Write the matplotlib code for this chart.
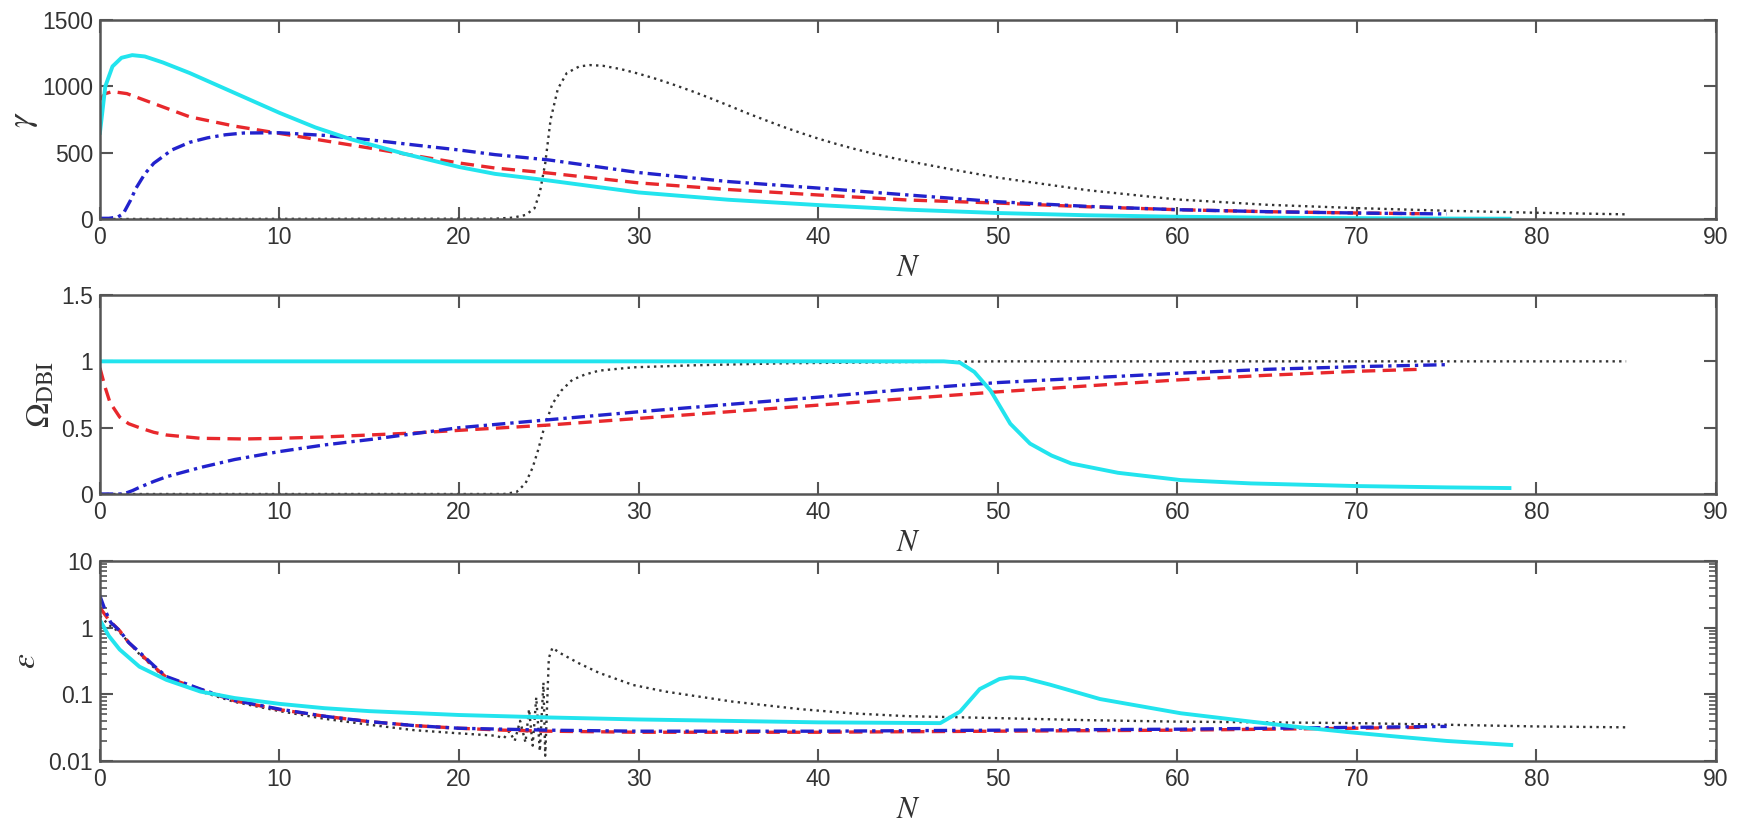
import numpy as np
import matplotlib
matplotlib.use("Agg")
import matplotlib.pyplot as plt
from matplotlib.ticker import LogLocator, FixedLocator, NullFormatter

# ---- data ----
# gamma panel
cyan_g_N = [0, 0.3, 0.7, 1.2, 1.8, 2.5, 3.5, 5, 7, 10, 12, 14, 17, 20, 22, 25, 30, 35, 40, 45, 50, 55, 60, 65, 70, 75, 78.5]
cyan_g = [650, 1000, 1150, 1215, 1235, 1225, 1180, 1100, 980, 800, 690, 600, 490, 392, 340, 290, 200, 145, 105, 70, 45, 28, 17, 10, 6, 3, 2]

red_g_N = [0, 0.3, 0.7, 1.5, 3, 5, 7.5, 10, 12.5, 15, 17.5, 20, 22, 25, 30, 35, 40, 45, 50, 55, 60, 65, 70, 73.5]
red_g = [900, 945, 960, 945, 870, 770, 700, 645, 590, 535, 478, 422, 384, 346, 272, 222, 181, 143, 120, 92, 70, 55, 45, 40]

blue_g_N = [0, 0.5, 1.0, 1.3, 1.7, 2, 2.5, 3, 4, 5, 6, 7, 8, 10, 12.5, 15, 17.5, 20, 22, 25, 30, 35, 40, 45, 50, 55, 60, 65, 70, 75]
blue_g = [5, 5, 15, 40, 140, 230, 340, 420, 520, 578, 612, 635, 648, 650, 630, 597, 558, 520, 485, 445, 350, 282, 233, 181, 130, 95, 70, 55, 45, 38]

dot_g_N = [0, 22, 23, 23.7, 24.2, 24.5, 24.8, 25.1, 25.5, 26, 26.7, 27.3, 28, 29, 30, 31, 32, 33, 34, 35, 36, 37, 38, 39, 40, 41, 42, 43, 44, 45, 47.5, 50, 55, 60, 65, 70, 75, 80, 85]
dot_g = [0, 2, 10, 30, 80, 200, 420, 750, 980, 1100, 1150, 1160, 1155, 1130, 1095, 1055, 1010, 962, 910, 856, 800, 748, 697, 650, 606, 566, 529, 495, 464, 436, 372, 312, 217, 147, 107, 82, 62, 47, 35]

# Omega_DBI panel
cyan_o_N = [0, 47, 47.9, 48.7, 49.6, 50.7, 51.8, 53, 54.1, 56.7, 60.2, 64.1, 70, 75, 78.5]
cyan_o = [1.0, 1.0, 0.99, 0.92, 0.78, 0.53, 0.38, 0.29, 0.23, 0.16, 0.105, 0.08, 0.06, 0.05, 0.045]

red_o_N = [0, 0.3, 0.56, 1.1, 1.6, 2.2, 3, 3.7, 5.6, 8, 10, 12.5, 15, 17.5, 20, 25, 30, 35, 40, 45, 50, 55, 60, 65, 70, 73.5]
red_o = [0.95, 0.8, 0.69, 0.58, 0.53, 0.50, 0.465, 0.445, 0.42, 0.415, 0.42, 0.43, 0.445, 0.46, 0.48, 0.52, 0.57, 0.62, 0.67, 0.72, 0.77, 0.815, 0.86, 0.895, 0.925, 0.94]

blue_o_N = [0, 1.3, 1.8, 2.2, 3, 3.7, 5.6, 7.5, 10, 12.5, 15, 17.5, 20, 25, 30, 35, 40, 45, 50, 55, 60, 65, 70, 75]
blue_o = [0.0, 0.0, 0.025, 0.05, 0.095, 0.13, 0.2, 0.26, 0.32, 0.37, 0.41, 0.455, 0.50, 0.56, 0.62, 0.675, 0.73, 0.79, 0.84, 0.875, 0.91, 0.94, 0.96, 0.975]

dot_o_N = [0, 22.5, 23.2, 23.7, 24.1, 24.4, 24.7, 25.2, 25.7, 26.3, 27, 27.8, 29.7, 33, 38, 45, 50, 85]
dot_o = [0, 0, 0.015, 0.08, 0.2, 0.33, 0.48, 0.68, 0.78, 0.86, 0.9, 0.93, 0.955, 0.97, 0.985, 0.995, 1.0, 1.0]

# epsilon panel
cyan_e_N = [0, 0.5, 1.1, 2.2, 3.7, 5.6, 7.5, 10, 12.5, 15, 20, 25, 30, 35, 40, 46.8, 47.9, 49, 50.1, 50.7, 51.5, 52.9, 55.7, 60.2, 64.1, 66.9, 69.6, 72.4, 75, 78.6]
cyan_e = [1.3, 0.75, 0.47, 0.26, 0.165, 0.11, 0.088, 0.072, 0.062, 0.056, 0.049, 0.045, 0.042, 0.04, 0.038, 0.037, 0.055, 0.12, 0.17, 0.18, 0.175, 0.14, 0.085, 0.052, 0.039, 0.032, 0.027, 0.023, 0.02, 0.0174]

red_e_N = [0, 0.5, 1.1, 1.6, 2.2, 3, 3.7, 5.6, 7.5, 10, 12.5, 15, 17.5, 20, 22.5, 25, 30, 40, 50, 60, 70, 73.5]
red_e = [2.0, 1.3, 0.9, 0.6, 0.42, 0.26, 0.18, 0.118, 0.08, 0.059, 0.047, 0.039, 0.034, 0.031, 0.029, 0.028, 0.027, 0.027, 0.028, 0.029, 0.031, 0.032]

blue_e_N = [0, 0.3, 0.6, 1.1, 1.6, 2.2, 3, 3.7, 5.6, 7.5, 10, 12.5, 15, 17.5, 20, 22.5, 25, 30, 40, 50, 60, 70, 75]
blue_e = [3.0, 1.8, 1.2, 0.9, 0.6, 0.43, 0.27, 0.185, 0.12, 0.081, 0.06, 0.047, 0.039, 0.034, 0.031, 0.03, 0.029, 0.028, 0.028, 0.029, 0.030, 0.032, 0.033]

dot_e_N = [0, 0.5, 1.1, 2.2, 3.7, 5.6, 7.5, 10, 12.5, 15, 17.5, 20, 22, 22.5, 22.8, 23.1, 23.4, 23.7, 23.9, 24.1, 24.3, 24.5, 24.7, 24.8, 25.0, 25.2, 25.6, 26.7, 27.8, 29.7, 31.5, 35.2, 39, 41.8, 45, 50, 55, 60, 65, 70, 75, 80, 85]
dot_e = [1.5, 1.1, 0.85, 0.4, 0.17, 0.11, 0.077, 0.056, 0.043, 0.035, 0.029, 0.026, 0.024, 0.022, 0.028, 0.02, 0.04, 0.019, 0.06, 0.017, 0.09, 0.014, 0.15, 0.012, 0.35, 0.5, 0.42, 0.29, 0.21, 0.138, 0.11, 0.078, 0.06, 0.052, 0.047, 0.044, 0.041, 0.039, 0.038, 0.037, 0.035, 0.033, 0.032]

x_ticks = [0, 10, 20, 30, 40, 50, 60, 70, 80, 90]

# ---- styles ----
CYAN = "#22e4ee"
RED = "#e8282c"
BLUE = "#2222cc"
DOT = "#333333"
AXC = "#555555"
TXC = "#333333"

plt.rcParams["mathtext.fontset"] = "stix"
plt.rcParams["font.family"] = ["Liberation Sans", "DejaVu Sans"]

fig = plt.figure(figsize=(17.41, 8.22), dpi=100)
left, width = 0.0574, 0.9282
ax1 = fig.add_axes([left, 0.7336, width, 0.2421])
ax2 = fig.add_axes([left, 0.3990, width, 0.2421])
ax3 = fig.add_axes([left, 0.0742, width, 0.2433])


def draw(ax, cN, c, rN, r, bN, b, dN, d):
    ax.plot(dN, d, color=DOT, lw=1.7, linestyle=(0, (1, 1.8)))
    ax.plot(rN, r, color=RED, lw=2.4, linestyle=(0, (4, 2.2)))
    ax.plot(bN, b, color=BLUE, lw=2.4, linestyle=(0, (4, 1.5, 1, 1.5)))
    ax.plot(cN, c, color=CYAN, lw=2.8)


draw(ax1, cyan_g_N, cyan_g, red_g_N, red_g, blue_g_N, blue_g, dot_g_N, dot_g)
draw(ax2, cyan_o_N, cyan_o, red_o_N, red_o, blue_o_N, blue_o, dot_o_N, dot_o)
draw(ax3, cyan_e_N, cyan_e, red_e_N, red_e, blue_e_N, blue_e, dot_e_N, dot_e)

ax1.set_ylim(0, 1500)
ax1.set_yticks([0, 500, 1000, 1500])
ax2.set_ylim(0, 1.5)
ax2.set_yticks([0, 0.5, 1, 1.5])
ax2.set_yticklabels(["0", "0.5", "1", "1.5"])
ax3.set_yscale("log")
ax3.set_ylim(0.01, 10)
ax3.yaxis.set_major_locator(FixedLocator([0.01, 0.1, 1, 10]))
ax3.set_yticklabels(["0.01", "0.1", "1", "10"])
ax3.yaxis.set_minor_locator(LogLocator(base=10, subs=np.arange(2, 10)))
ax3.yaxis.set_minor_formatter(NullFormatter())

for ax in (ax1, ax2, ax3):
    ax.set_xlim(0, 90)
    ax.set_xticks(x_ticks)
    ax.tick_params(which="major", direction="in", length=9, width=1.5, color=AXC,
                   top=True, right=True, labelsize=16.5, labelcolor=TXC, pad=5)
    ax.tick_params(which="minor", direction="in", length=5, width=1.2, color=AXC,
                   left=True, right=True)
    for s in ax.spines.values():
        s.set_color(AXC)
        s.set_linewidth(1.8)
    ax.set_xlabel(r"$N$", fontsize=22, color="#333333")
    ax.xaxis.set_label_coords(0.5, -0.17)

ax1.set_ylabel(r"$\gamma$", fontsize=24, color="#333333")
ax1.yaxis.set_label_coords(-0.037, 0.5)
ax2.set_ylabel(r"$\Omega_{\mathrm{DBI}}$", fontsize=24, color="#333333")
ax2.yaxis.set_label_coords(-0.027, 0.5)
ax3.set_ylabel(r"$\epsilon$", fontsize=24, color="#333333")
ax3.yaxis.set_label_coords(-0.036, 0.5)

fig.savefig("out.png", dpi=100)
